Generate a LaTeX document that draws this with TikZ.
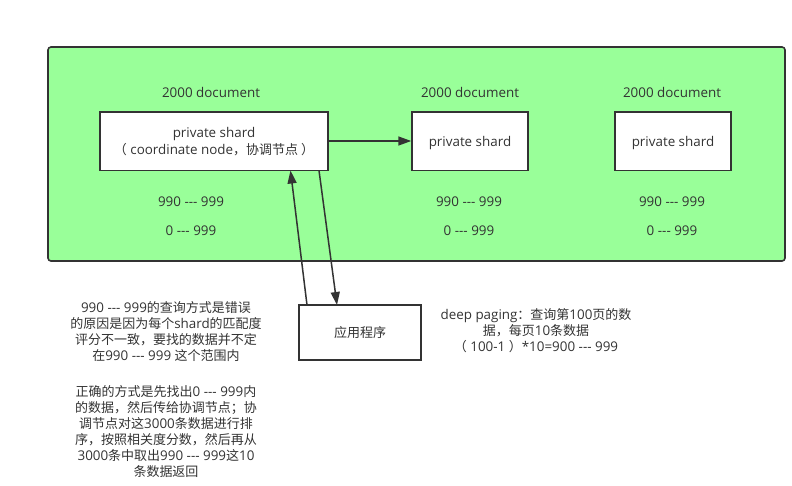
\documentclass[tikz,border=0pt]{standalone}
\usepackage{fontspec}
\setmainfont{Open Sans}[Ligatures=TeXOff]
\newfontfamily\cj{Noto Sans CJK SC}[Scale=0.97]
\newcommand\upstrut[1]{\rule{0pt}{#1}}
\usetikzlibrary{arrows.meta}
\definecolor{bggreen}{HTML}{99FF99}
\definecolor{ink}{HTML}{333333}
\begin{document}
\begin{tikzpicture}[x=1pt,y=-1pt,
  every node/.style={font=\fontsize{13.4}{16}\selectfont, text=ink, inner sep=0pt},
  shardbox/.style={draw=ink, line width=1.5pt, fill=white, minimum height=58.5pt, align=center},
  lbl/.style={anchor=center},
  conn/.style={draw=ink, line width=1.5pt, -{Triangle[length=13pt,width=9pt]}},
  note/.style={align=center}]
\useasboundingbox (0,0) rectangle (792,485);
\draw[ink, line width=1.6pt, fill=bggreen, rounded corners=3pt] (48,47) rectangle (785,261);
\node[shardbox, minimum width=228pt, font=\fontsize{13.4}{16.5}\selectfont] (s1) at (214,141) {\upstrut{11.5pt}private shard\\{\cj （} coordinate node{\cj ，协调节点 ）}};
\node[shardbox, minimum width=116pt] (s2) at (470,141) {\upstrut{14pt}private shard};
\node[shardbox, minimum width=116pt] (s3) at (673,141) {\upstrut{14pt}private shard};
\node[lbl] (d1) at (211,92) {2000 document};
\node[lbl] (d2) at (470,92) {2000 document};
\node[lbl] (d3) at (672,92) {2000 document};
\node[lbl] (a1) at (191,202) {990 --- 999};
\node[lbl] (a2) at (469,202) {990 --- 999};
\node[lbl] (a3) at (672,202) {990 --- 999};
\node[lbl] (b1) at (191,231) {0 --- 999};
\node[lbl] (b2) at (469,231) {0 --- 999};
\node[lbl] (b3) at (672,231) {0 --- 999};
\node[shardbox, minimum width=122pt, minimum height=55pt] (app) at (360,332.5) {\cj 应用程序};
\coordinate (upS) at (307,305);
\coordinate (upE) at (290.5,170.5);
\coordinate (dnS) at (319,170.5);
\coordinate (dnE) at (337,305);
\draw[conn] (s1.east) -- (s2.west);
\draw[conn] (upS) -- (upE);
\draw[conn] (dnS) -- (dnE);
\node[note, anchor=north] (n1) at (166,301) {990 --- 999{\cj 的查询方式是错误}\\{\cj 的原因是因为每个}shard{\cj 的匹配度}\\{\cj 评分不一致，要找的数据并不定}\\{\cj 在}990 --- 999 {\cj 这个范围内}};
\node[note, anchor=north] (n2) at (166,385) {{\cj 正确的方式是先找出}0 --- 999{\cj 内}\\{\cj 的数据，然后传给协调节点；协}\\{\cj 调节点对这}3000{\cj 条数据进行排}\\{\cj 序，按照相关度分数，然后再从}\\3000{\cj 条中取出}990 --- 999{\cj 这}10\\{\cj 条数据返回}};
\node[note, anchor=north] (n3) at (536,308) {deep paging{\cj ：查询第}100{\cj 页的数}\\{\cj 据，每页}10{\cj 条数据}\\{\cj （} 100-1 {\cj ）}*10=900 --- 999};
\end{tikzpicture}
\end{document}
